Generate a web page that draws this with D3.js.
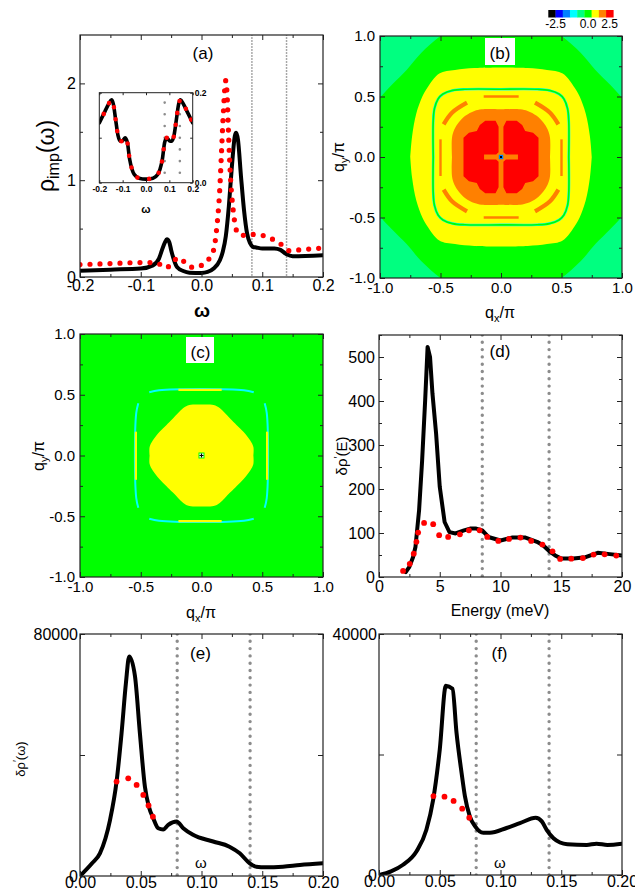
<!DOCTYPE html>
<html lang="en">
<head>
<meta charset="UTF-8">
<title>Impurity DOS and QPI panels</title>
<script src="https://cdnjs.cloudflare.com/ajax/libs/d3/7.8.5/d3.min.js"></script>
<style>
  body { margin: 0; background: #fff; }
  svg { display: block; }
</style>
</head>
<body>
<svg id="chart" width="635" height="895"></svg>
<script>
// ---------- data ----------
// (a) rho_imp(omega), main plot
const aBlackW = [-0.2,-0.15,-0.1,-0.08,-0.07,-0.065,-0.06,-0.057,-0.053,-0.05,-0.045,-0.04,-0.03,-0.02,0.0,0.01,0.02,0.03,0.035,0.04,0.045,0.05,0.055,0.057,0.06,0.065,0.07,0.075,0.08,0.085,0.09,0.1,0.12,0.13,0.14,0.15,0.2];
const aBlack  = [0.065,0.076,0.087,0.12,0.19,0.28,0.36,0.39,0.36,0.28,0.17,0.10,0.062,0.045,0.042,0.052,0.087,0.17,0.26,0.42,0.73,1.14,1.46,1.49,1.42,1.04,0.69,0.45,0.35,0.31,0.305,0.295,0.295,0.28,0.235,0.215,0.225];
const aRedW = [-0.2,-0.15,-0.1,-0.08,-0.068,-0.058,-0.048,-0.038,-0.027,-0.015,0.0,0.01,0.02,0.025,0.03,0.033,0.036,0.04,0.042,0.045,0.048,0.052,0.056,0.06,0.07,0.08,0.1,0.12,0.135,0.145,0.16,0.18,0.2];
const aRed  = [0.128,0.139,0.149,0.149,0.13,0.095,0.15,0.2,0.15,0.1,0.12,0.17,0.28,0.5,0.9,1.3,1.7,2.03,1.9,1.4,1.0,0.7,0.52,0.45,0.43,0.44,0.43,0.38,0.32,0.27,0.28,0.29,0.3];
const aGuides = [0.083, 0.14];
const aXTicks = [-0.2,-0.1,0,0.1,0.2], aXMinor = [-0.15,-0.05,0.05,0.15];
const aYTicks = [0,1,2], aYMinor = [0.5,1.5];

// (a) inset
const insW   = [-0.2,-0.18,-0.16,-0.148,-0.14,-0.13,-0.12,-0.11,-0.1,-0.09,-0.08,-0.07,-0.06,-0.05,-0.03,0,0.03,0.05,0.06,0.07,0.08,0.09,0.1,0.11,0.12,0.13,0.14,0.148,0.16,0.18,0.2];
const insRho = [0.133,0.154,0.175,0.184,0.175,0.14,0.105,0.092,0.093,0.10,0.09,0.052,0.03,0.018,0.01,0.008,0.01,0.018,0.03,0.052,0.09,0.10,0.093,0.092,0.105,0.14,0.175,0.184,0.175,0.154,0.133];
const insGuides = [0.08, 0.145];
const insXTicks = [-0.2,-0.1,0,0.1,0.2], insYTicks = [0,0.1,0.2], insYLabelled = [0,0.2];

// colour bar of (b)/(c)
const cbarColors = ["#000000","#0000ff","#0080ff","#00ffff","#00ff80","#00ff00","#ffff00","#ff8000","#ff0000"];
const cbarLabels = ["-2.5","0.0","2.5"];
const cbarLabelCell = [1, 5.5, 8.5];

// (b) level outlines, first quadrant (qx/pi, qy/pi); colour = colour-bar index
const bGreenEdge  = [[1.2,0],[1.13,0.3],[1.0,0.49],[0.9,0.6],[0.78,0.72],[0.66,0.86],[0.5,1.0],[0.3,1.13],[0,1.2]];
const bYellowEdge = [[0.75,0],[0.735,0.17],[0.70,0.36],[0.65,0.50],[0.61,0.57],[0.51,0.69],[0.38,0.72],[0.22,0.735],[0,0.74]];
const bRing       = [[0.56,0],[0.56,0.3],[0.55,0.40],[0.52,0.48],[0.48,0.52],[0.40,0.55],[0.3,0.56],[0,0.56]];
const bOrangeArc  = [[0.281,0.449],[0.405,0.366],[0.474,0.27]];
const bOrangeBars = [[[-0.143,0.5],[0.146,0.5]],[[-0.143,-0.5],[0.146,-0.5]],[[-0.5,0.146],[-0.5,-0.157]],[[0.5,0.146],[0.5,-0.157]]];
const bOrangeEdge = [[0.405,0],[0.405,0.16],[0.385,0.23],[0.35,0.285],[0.295,0.34],[0.22,0.38],[0.16,0.394],[0,0.394]];
const bRedLobe    = [[0.02,0.04],[0.02,0.25],[0.045,0.30],[0.13,0.30],[0.175,0.265],[0.2,0.215],[0.265,0.2],[0.31,0.16],[0.31,0],[0.14,0],[0.14,0.02],[0.04,0.02]];

// (c)
const cYellowEdge = [[0.427,0],[0.427,0.07],[0.40,0.125],[0.345,0.195],[0.29,0.25],[0.235,0.305],[0.15,0.39],[0.1,0.416],[0,0.42]];
const cRingTop    = [[-0.43,0.52],[-0.35,0.537],[0,0.548],[0.35,0.537],[0.43,0.52]];
const cYellowBars = [[[-0.19,0.54],[0.166,0.54]],[[-0.19,-0.54],[0.166,-0.54]],[[-0.54,0.196],[-0.54,-0.2]],[[0.54,0.196],[0.54,-0.2]]];
const qTicks = [-1,-0.5,0,0.5,1], qMinor = [-0.75,-0.25,0.25,0.75];

// (d) delta rho(E)
const dE     = [2.2,2.5,2.8,3.0,3.3,3.55,3.8,4.0,4.2,4.4,4.7,5.0,5.4,5.8,6.3,7.0,7.5,8.0,8.5,9.0,10,11,12,13,13.5,14,14.5,15,16,17,18,19,20];
const dBlack = [11,23,45,68,152,265,402,523,500,417,326,205,125,102,99,106,110,110,106,91,83,90,90,80,72,59,49,42,42,45,55,52,49];
const dRedE  = [1.98,2.53,2.86,3.08,3.22,3.71,4.46,4.95,5.69,6.66,7.4,8.28,8.91,9.82,10.7,11.64,12.52,13.45,14.28,14.91,15.82,16.78,17.66,18.57,19.53];
const dRed   = [13.7,30,53,80,101,123,120,95,91,97,106,106,91,82,86.5,89.5,82,73.6,58.4,41,41.7,43,51,51.6,48.6];
const dGuides = [8.5, 14];
const dXTicks = [0,5,10,15,20], dXMinor = [2.5,7.5,12.5,17.5];
const dYTicks = [0,100,200,300,400,500], dYMinor = [50,150,250,350,450,550];

// (e)
const eW     = [0,0.0099,0.0164,0.0247,0.0301,0.0342,0.0378,0.0405,0.0452,0.0493,0.0534,0.0567,0.0603,0.0644,0.0685,0.0726,0.0795,0.085,0.093,0.1096,0.123,0.1315,0.1397,0.145,0.153,0.167,0.181,0.2];
const eBlack = [0,4190,7500,18500,31200,47200,63800,72600,66200,47200,29600,22900,19100,15800,15400,16900,18000,15800,13600,11400,9700,7500,4190,3090,2870,3090,3640,4190];
const eRedW  = [0.0301,0.0397,0.0466,0.0521,0.0564,0.06];
const eRed   = [31200,32300,30100,26800,23300,19600];
const eYTicks = [0,40000,80000], eYLabelled = [0,80000];

// (f)
const fW     = [0,0.0099,0.0198,0.0308,0.039,0.0446,0.05,0.055,0.0605,0.0638,0.068,0.0707,0.0748,0.079,0.0858,0.0913,0.105,0.116,0.129,0.134,0.138,0.1436,0.149,0.155,0.171,0.179,0.188,0.2];
const fBlack = [0,600,1700,3900,7500,12500,20800,31400,30900,23600,16900,13100,9700,8100,7000,7000,7800,8600,9500,8900,7500,6100,5400,5100,5000,5200,5000,5200];
const fRedW  = [0.0448,0.0539,0.0614,0.0685,0.0743];
const fRed   = [13100,13000,12300,11000,9500];
const fYTicks = [0,20000,40000], fYLabelled = [0,40000];

const efGuides = [0.08, 0.14];
const efXTicks = [0,0.05,0.1,0.15,0.2], efXMinor = [0.025,0.075,0.125,0.175];

// ---------- drawing ----------
const FONT = "'Liberation Sans', Arial, sans-serif";
const svg = d3.select("#chart").attr("font-family", FONT);
const defs = svg.append("defs");
let clipN = 0;

function clipFor(x, y) {
    const id = "clip" + (clipN++);
    defs.append("clipPath").attr("id", id).append("rect")
        .attr("x", x.range()[0]).attr("y", y.range()[1])
        .attr("width", x.range()[1] - x.range()[0])
        .attr("height", y.range()[0] - y.range()[1]);
    return svg.append("g").attr("clip-path", `url(#${id})`);
}

function axes(x, y, o) {
    const [xl, xr] = x.range(), [yb, yt] = y.range();
    const g = svg.append("g");
    const none = () => "";
    const mk = (axis, tr, vals, size, fmt, pad) => {
        const a = g.append("g").attr("transform", tr)
            .call(axis.tickValues(vals).tickSize(size).tickPadding(pad).tickFormat(fmt));
        a.select(".domain").remove();
        a.attr("font-family", FONT).attr("font-size", o.fs || 16)
            .attr("font-weight", o.bold ? "bold" : null);
        a.selectAll("line").attr("stroke", "#222").attr("stroke-width", 1);
        return a;
    };
    const maj = o.tick || 5, mnr = o.minor || 3;
    mk(d3.axisBottom(x), `translate(0,${yb})`, o.xTicks, -maj, o.xFmt || none, o.xPad || 3);
    mk(d3.axisTop(x), `translate(0,${yt})`, o.xTicks, -maj, none, 3);
    mk(d3.axisLeft(y), `translate(${xl},0)`, o.yTicks, -maj, o.yFmt || none, o.yPad || 4);
    mk(d3.axisRight(y), `translate(${xr},0)`, o.yTicks, -maj, o.yFmtR || none, o.yPad || 4);
    if (o.xMinor) {
        mk(d3.axisBottom(x), `translate(0,${yb})`, o.xMinor, -mnr, none, 3);
        mk(d3.axisTop(x), `translate(0,${yt})`, o.xMinor, -mnr, none, 3);
    }
    if (o.yMinor) {
        mk(d3.axisLeft(y), `translate(${xl},0)`, o.yMinor, -mnr, none, 3);
        mk(d3.axisRight(y), `translate(${xr},0)`, o.yMinor, -mnr, none, 3);
    }
    g.append("rect").attr("x", xl).attr("y", yt)
        .attr("width", xr - xl).attr("height", yb - yt)
        .attr("fill", "none").attr("stroke", "#222").attr("stroke-width", o.frame || 1.2);
}

function curve(g, x, y, xs, ys, kind, width) {
    const line = d3.line().x(i => x(xs[i])).y(i => y(ys[i])).curve(kind);
    return g.append("path").attr("d", line(d3.range(xs.length)))
        .attr("fill", "none").attr("stroke", "#000").attr("stroke-width", width)
        .attr("stroke-linejoin", "round").attr("stroke-linecap", "round");
}

function guides(g, x, y, vals, lo, hi, width, dash, color) {
    g.selectAll(null).data(vals).enter().append("line")
        .attr("x1", d => x(d)).attr("x2", d => x(d))
        .attr("y1", y(hi)).attr("y2", y(lo))
        .attr("stroke", color).attr("stroke-width", width)
        .attr("stroke-dasharray", dash).attr("stroke-linecap", "round");
}

function redDots(g, x, y, xs, ys, r) {
    g.selectAll(null).data(d3.range(xs.length)).enter().append("circle")
        .attr("cx", i => x(xs[i])).attr("cy", i => y(ys[i])).attr("r", r)
        .attr("fill", "#ff0000");
}

function label(text, cx, base, box) {
    if (box) {
        svg.append("rect").attr("x", box[0]).attr("y", box[1])
            .attr("width", box[2]).attr("height", box[3]).attr("fill", "#fff");
    }
    svg.append("text").attr("x", cx).attr("y", base).attr("text-anchor", "middle")
        .attr("font-size", 17).text(text);
}

function yTitle(x, y, parts, size) {
    const t = svg.append("text").attr("transform", `translate(${x},${y}) rotate(-90)`)
        .attr("text-anchor", "middle").attr("font-size", size);
    parts.forEach(p => {
        const s = t.append("tspan").text(p.t);
        if (p.fs) s.attr("font-size", p.fs);
        if (p.dy) s.attr("dy", p.dy);
    });
}

function xTitle(x, y, parts, size, bold) {
    const t = svg.append("text").attr("x", x).attr("y", y)
        .attr("text-anchor", "middle").attr("font-size", size)
        .attr("font-weight", bold ? "bold" : null);
    parts.forEach(p => {
        const s = t.append("tspan").text(p.t);
        if (p.fs) s.attr("font-size", p.fs);
        if (p.dy) s.attr("dy", p.dy);
    });
}

// ----- panel (a) -----
{
    const x = d3.scaleLinear().domain([-0.2, 0.2]).range([80, 323]);
    const y = d3.scaleLinear().domain([0, 2.5]).range([277, 35]);
    const g = clipFor(x, y);
    guides(g, x, y, aGuides, 0, 2.5, 1.8, "0 3", "#a0a0a0");
    curve(g, x, y, aBlackW, aBlack, d3.curveMonotoneX, 4);
    curve(g, x, y, aRedW, aRed, d3.curveMonotoneX, 5.2)
        .attr("stroke", "#ff0000").attr("stroke-dasharray", "0 10");
    axes(x, y, { xTicks: aXTicks, xMinor: aXMinor, yTicks: aYTicks, yMinor: aYMinor,
        xFmt: d => d.toFixed(1), yFmt: d => d3.format("d")(d), fs: 16 });

    // inset
    const ix = d3.scaleLinear().domain([-0.2, 0.2]).range([99.3, 192.7]);
    const iy = d3.scaleLinear().domain([0, 0.2]).range([182.7, 92.7]);
    svg.append("rect").attr("x", 99.3).attr("y", 92.7).attr("width", 93.4).attr("height", 90)
        .attr("fill", "#fff");
    const gi = clipFor(ix, iy);
    guides(gi, ix, iy, insGuides, 0.012, 0.178, 2.6, "0 11.7", "#8c8c8c");
    curve(gi, ix, iy, insW, insRho, d3.curveMonotoneX, 3.6);
    curve(gi, ix, iy, insW, insRho, d3.curveMonotoneX, 4.6)
        .attr("stroke", "#ff0000").attr("stroke-dasharray", "0 12").attr("stroke-dashoffset", 2);
    axes(ix, iy, { xTicks: insXTicks, yTicks: insYTicks, tick: 2.5,
        xFmt: d => d.toFixed(1), yFmtR: d => insYLabelled.includes(d) ? d.toFixed(1) : "",
        fs: 8.5, bold: true, xPad: 3, yPad: 2, frame: 1 });
    xTitle(146, 213, [{ t: "ω" }], 11, true);

    label("(a)", 203, 59);
    xTitle(202, 317, [{ t: "ω" }], 19, true);
    yTitle(54, 156, [{ t: "ρ" }, { t: "imp", fs: 16, dy: 5 }, { t: "(ω)", dy: -5 }], 23);
}

// helpers for the colour maps
function mirror4(q1) {
    const q2 = q1.slice().reverse().map(([a, b]) => [-a, b]);
    const q3 = q1.map(([a, b]) => [-a, -b]);
    const q4 = q1.slice().reverse().map(([a, b]) => [a, -b]);
    return q1.concat(q2, q3, q4);
}
function flips(pts) {
    return [[1, 1], [-1, 1], [-1, -1], [1, -1]].map(([sx, sy]) => pts.map(([a, b]) => [sx * a, sy * b]));
}
function rot4(pts) {
    const out = [pts];
    for (let k = 1; k < 4; k++) out.push(out[k - 1].map(([a, b]) => [-b, a]));
    return out;
}

// ----- panel (b) -----
{
    const x = d3.scaleLinear().domain([-1, 1]).range([380, 622]);
    const y = d3.scaleLinear().domain([-1, 1]).range([278, 36]);
    const g = clipFor(x, y);
    const closed = d3.line().x(d => x(d[0])).y(d => y(d[1])).curve(d3.curveCatmullRomClosed);
    const poly = d3.line().x(d => x(d[0])).y(d => y(d[1])).curve(d3.curveLinearClosed);
    const open = d3.line().x(d => x(d[0])).y(d => y(d[1])).curve(d3.curveCatmullRom);

    g.append("rect").attr("x", 380).attr("y", 36).attr("width", 242).attr("height", 242)
        .attr("fill", cbarColors[4]);
    g.append("path").attr("d", closed(mirror4(bGreenEdge))).attr("fill", cbarColors[5]);
    g.append("path").attr("d", closed(mirror4(bYellowEdge))).attr("fill", cbarColors[6]);
    g.append("path").attr("d", closed(mirror4(bRing))).attr("fill", "none")
        .attr("stroke", cbarColors[3]).attr("stroke-width", 2.6);
    g.append("path").attr("d", closed(mirror4(bRing))).attr("fill", "none")
        .attr("stroke", cbarColors[5]).attr("stroke-width", 1.7);
    flips(bOrangeArc).forEach(a => g.append("path").attr("d", open(a)).attr("fill", "none")
        .attr("stroke", cbarColors[7]).attr("stroke-width", 4.2));
    bOrangeBars.forEach(a => g.append("path").attr("d", open(a)).attr("fill", "none")
        .attr("stroke", cbarColors[7]).attr("stroke-width", 2.4));
    g.append("path").attr("d", closed(mirror4(bOrangeEdge))).attr("fill", cbarColors[7]);
    flips(bRedLobe).forEach(p => g.append("path").attr("d", poly(p)).attr("fill", cbarColors[8]));
    g.append("rect").attr("x", x(0) - 2.2).attr("y", y(0) - 2.2).attr("width", 4.4).attr("height", 4.4)
        .attr("fill", cbarColors[2]);
    g.append("rect").attr("x", x(0) - 1).attr("y", y(0) - 1).attr("width", 2).attr("height", 2)
        .attr("fill", "#000");

    axes(x, y, { xTicks: qTicks, xMinor: qMinor, yTicks: qTicks, yMinor: qMinor,
        xFmt: d => d.toFixed(1), yFmt: d => d.toFixed(1), fs: 15, xPad: 4, yPad: 5 });
    label("(b)", 500, 59, [485, 38, 30, 27]);
    xTitle(500, 318, [{ t: "q" }, { t: "x", fs: 11, dy: 4 }, { t: "/π", dy: -4 }], 16);
    yTitle(344, 157, [{ t: "q" }, { t: "y", fs: 11, dy: 4 }, { t: "/π", dy: -4 }], 16);

    // colour bar
    const cb = d3.scaleBand().domain(d3.range(cbarColors.length)).range([548.3, 613.3]);
    svg.append("g").selectAll("rect").data(cbarColors).enter().append("rect")
        .attr("x", (d, i) => cb(i)).attr("y", 10).attr("width", cb.bandwidth() + 0.3).attr("height", 7.5)
        .attr("fill", d => d);
    svg.append("g").selectAll("text").data(cbarLabels).enter().append("text")
        .attr("x", (d, i) => cb(0) + cbarLabelCell[i] * cb.bandwidth()).attr("y", 28)
        .attr("text-anchor", "middle").attr("font-size", 12).text(d => d);
}

// ----- panel (c) -----
{
    const x = d3.scaleLinear().domain([-1, 1]).range([80, 323]);
    const y = d3.scaleLinear().domain([-1, 1]).range([577, 334]);
    const g = clipFor(x, y);
    const closed = d3.line().x(d => x(d[0])).y(d => y(d[1])).curve(d3.curveCatmullRomClosed);
    const open = d3.line().x(d => x(d[0])).y(d => y(d[1])).curve(d3.curveCatmullRom);

    g.append("rect").attr("x", 80).attr("y", 334).attr("width", 243).attr("height", 243)
        .attr("fill", cbarColors[5]);
    g.append("path").attr("d", closed(mirror4(cYellowEdge))).attr("fill", cbarColors[6]);
    rot4(cRingTop).forEach(a => g.append("path").attr("d", open(a)).attr("fill", "none")
        .attr("stroke", cbarColors[3]).attr("stroke-width", 2));
    cYellowBars.forEach(a => g.append("path").attr("d", open(a)).attr("fill", "none")
        .attr("stroke", cbarColors[6]).attr("stroke-width", 2.2));
    g.append("rect").attr("x", x(0) - 3).attr("y", y(0) - 3).attr("width", 6).attr("height", 6)
        .attr("fill", cbarColors[5]);
    g.append("rect").attr("x", x(0) - 2).attr("y", y(0) - 2).attr("width", 4).attr("height", 4)
        .attr("fill", "#fff");
    g.append("path").attr("d", `M${x(0) - 2},${y(0)}H${x(0) + 2}M${x(0)},${y(0) - 2}V${y(0) + 2}`)
        .attr("stroke", "#000").attr("stroke-width", 1.2);

    axes(x, y, { xTicks: qTicks, xMinor: qMinor, yTicks: qTicks, yMinor: qMinor,
        xFmt: d => d.toFixed(1), yFmt: d => d.toFixed(1), fs: 15, xPad: 4, yPad: 5 });
    label("(c)", 200.5, 358, [186, 337, 28, 26]);
    xTitle(201, 618, [{ t: "q" }, { t: "x", fs: 11, dy: 4 }, { t: "/π", dy: -4 }], 16);
    yTitle(44, 456, [{ t: "q" }, { t: "y", fs: 11, dy: 4 }, { t: "/π", dy: -4 }], 16);
}

// ----- panel (d) -----
{
    const x = d3.scaleLinear().domain([0, 20]).range([379, 622]);
    const y = d3.scaleLinear().domain([0, 550]).range([577, 335]);
    const g = clipFor(x, y);
    guides(g, x, y, dGuides, 0, 550, 3.4, "0 7.3", "#8c8c8c");
    curve(g, x, y, dE, dBlack, d3.curveLinear, 4);
    redDots(g, x, y, dRedE, dRed, 2.9);
    axes(x, y, { xTicks: dXTicks, xMinor: dXMinor, yTicks: dYTicks, yMinor: dYMinor,
        xFmt: d => d, yFmt: d => d, fs: 16, xPad: 4, yPad: 4 });
    label("(d)", 500, 357);
    xTitle(500, 616, [{ t: "Energy (meV)" }], 16);
    yTitle(347, 456, [{ t: "δρ" }, { t: "′", fs: 11, dy: -5 }, { t: "(E)", dy: 5 }], 15);
}

// ----- panels (e) and (f) -----
function lowerPanel(xr, top, bot, yMax, ticks, labelled, w, blk, rw, rd, tag) {
    const x = d3.scaleLinear().domain([0, 0.2]).range(xr);
    const y = d3.scaleLinear().domain([0, yMax]).range([bot, top]);
    const g = clipFor(x, y);
    guides(g, x, y, efGuides, 0, yMax, 3.4, "0 7.3", "#8c8c8c");
    curve(g, x, y, w, blk, d3.curveMonotoneX, 4);
    redDots(g, x, y, rw, rd, 2.9);
    axes(x, y, { xTicks: efXTicks, xMinor: efXMinor, yTicks: ticks,
        xFmt: d => d.toFixed(2), yFmt: d => labelled.includes(d) ? d : "", fs: 16, xPad: 1, yPad: 2 });
    label(tag, (xr[0] + xr[1]) / 2 - 1, 659);
    xTitle(x(0.0995), 868, [{ t: "ω" }], 15);
}
lowerPanel([80, 323], 634, 876, 80000, eYTicks, eYLabelled, eW, eBlack, eRedW, eRed, "(e)");
lowerPanel([379, 622], 634, 875, 40000, fYTicks, fYLabelled, fW, fBlack, fRedW, fRed, "(f)");
yTitle(25, 759, [{ t: "δρ" }, { t: "′", fs: 10, dy: -4 }, { t: "(ω)", dy: 4 }], 13);
</script>
</body>
</html>
